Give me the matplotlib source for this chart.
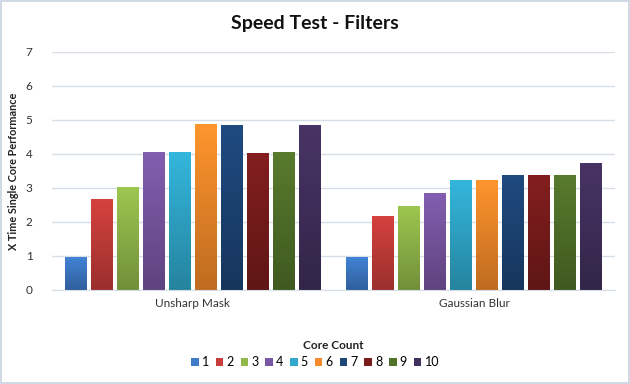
import matplotlib
matplotlib.use("Agg")
import matplotlib.pyplot as plt
import numpy as np
from matplotlib.colors import LinearSegmentedColormap, to_rgb
from matplotlib.patches import Rectangle

categories = ["Unsharp Mask", "Gaussian Blur"]
cores = ["1", "2", "3", "4", "5", "6", "7", "8", "9", "10"]
unsharp = [0.98, 2.68, 3.03, 4.06, 4.06, 4.88, 4.85, 4.03, 4.06, 4.85]
gaussian = [0.98, 2.18, 2.47, 2.86, 3.24, 3.24, 3.39, 3.39, 3.39, 3.74]
colors = ["#3d7ac7", "#c63d3a", "#92b84a", "#7a57a3", "#30a9cc",
          "#f58a2a", "#1d4577", "#7a1c1c", "#52722a", "#42305e"]

plt.rcParams["font.family"] = ["Lato", "DejaVu Sans"]
fig = plt.figure(figsize=(6.3, 3.84), dpi=100)
ax = fig.add_axes([0.0825, 0.245, 0.8935, 0.62])

x = np.arange(len(categories))
pitch = 0.0924
width = 0.078
grad = np.linspace(0, 1, 100).reshape(-1, 1)

for i, c in enumerate(cores):
    vals = [unsharp[i], gaussian[i]]
    pos = x + (i - 4.5) * pitch
    bars = ax.bar(pos, vals, width, color=colors[i], label=c, zorder=2)
    base = np.array(to_rgb(colors[i]))
    cmap = LinearSegmentedColormap.from_list("g", [base * 0.78, np.minimum(base * 1.08, 1)])
    for b in bars:
        b.set_facecolor("none")
        b.set_edgecolor("none")
        im = ax.imshow(grad, extent=[b.get_x(), b.get_x() + b.get_width(), 0, b.get_height()],
                       origin="lower", cmap=cmap, aspect="auto", zorder=2)
        im.set_clip_path(b)

ax.set_xlim(-0.5, 1.5)
ax.set_ylim(0, 7)
ax.set_yticks(range(8))
ax.set_xticks(x)
ax.set_xticklabels(categories)
ax.grid(axis="y", color="#d5dde6", linewidth=1, zorder=0)
for s in ["top", "right", "left"]:
    ax.spines[s].set_visible(False)
ax.spines["bottom"].set_color("#d5dde6")
ax.tick_params(length=0, labelsize=8.5, colors="#333333", pad=6)
ax.tick_params(axis="y", pad=14)

ax.set_ylabel("X Time Single Core Performance", fontsize=7.8, fontweight="bold", color="#222222", labelpad=5)
ax.set_xlabel("Core Count", fontsize=8.5, fontweight="bold", color="#222222", labelpad=22)
fig.suptitle("Speed Test - Filters", fontsize=14, fontweight="bold", y=0.96, color="#111111")

handles, labels = ax.get_legend_handles_labels()
leg = fig.legend([h[0] for h in handles], labels, loc="center", bbox_to_anchor=(0.5, 0.057), ncol=10,
                 frameon=False, fontsize=9, handlelength=0.6, handleheight=0.6,
                 handletextpad=0.25, columnspacing=0.55)
for p, c in zip(leg.get_patches(), colors):
    p.set_facecolor(c)

fig.patches.append(Rectangle((0.002, 0.003), 0.996, 0.994, transform=fig.transFigure,
                             fill=False, edgecolor="#c8d3df", linewidth=1.2))

fig.savefig("out.png", dpi=100)
